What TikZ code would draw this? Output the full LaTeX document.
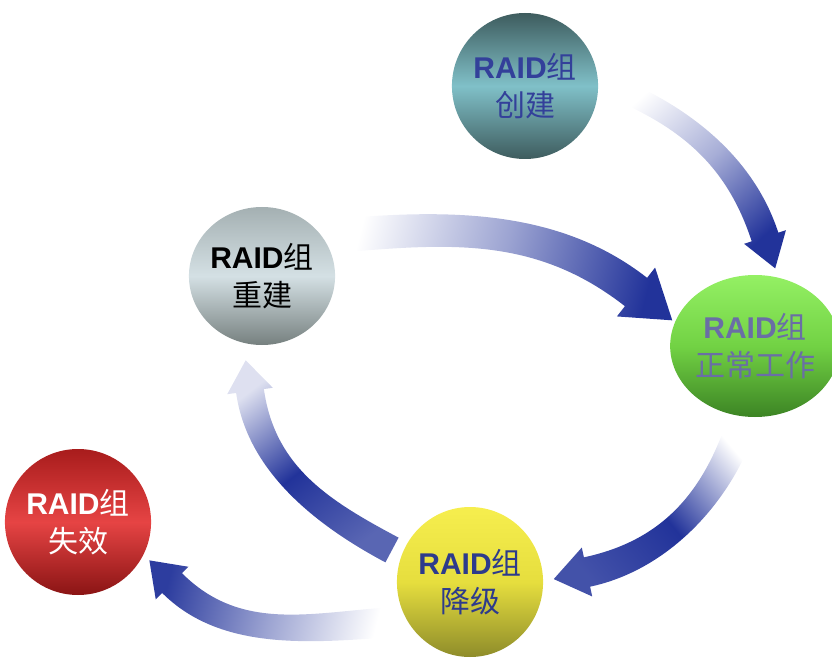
\documentclass[tikz,border=0pt]{standalone}
\usepackage{fontspec}
\setmainfont{Liberation Sans}
\newfontfamily\cjk{Noto Sans CJK SC}
\usetikzlibrary{shapes.geometric}
\definecolor{ab}{HTML}{22339A}
\definecolor{tealA}{HTML}{3E5C5E}
\definecolor{tealB}{HTML}{80C0C8}
\definecolor{grayA}{HTML}{A4B0B2}
\definecolor{grayB}{HTML}{D4E0E4}
\definecolor{grayC}{HTML}{76807F}
\definecolor{greenA}{HTML}{94F064}
\definecolor{greenB}{HTML}{72D244}
\definecolor{greenC}{HTML}{3C8424}
\definecolor{yelA}{HTML}{F6EE4E}
\definecolor{yelB}{HTML}{E6DE3E}
\definecolor{yelC}{HTML}{8E8C2A}
\definecolor{redA}{HTML}{A81C1C}
\definecolor{redB}{HTML}{E64444}
\definecolor{redC}{HTML}{8A1414}
\definecolor{txtA}{HTML}{33409A}
\definecolor{txtC}{HTML}{6A6EA6}
\definecolor{txtD}{HTML}{2D3B8C}
% curved block arrow: #1 fill options, #2,#3 tail centre, #4 tail angle, #5 tail half width,
% #6,#7 head base centre, #8 head angle, #9 head half width; \hw head wing, \hl head length
\newcommand\carrow[9]{%
 \pgfmathsetmacro\cTx{#2}\pgfmathsetmacro\cTy{#3}%
 \pgfmathsetmacro\cHx{#6}\pgfmathsetmacro\cHy{#7}%
 \pgfmathsetmacro\ck{0.37*veclen(\cHx-\cTx,\cHy-\cTy)}%
 \pgfmathsetmacro\dTx{cos(#4)}\pgfmathsetmacro\dTy{sin(#4)}%
 \pgfmathsetmacro\nTx{-sin(#4)}\pgfmathsetmacro\nTy{cos(#4)}%
 \pgfmathsetmacro\dHx{cos(#8)}\pgfmathsetmacro\dHy{sin(#8)}%
 \pgfmathsetmacro\nHx{-sin(#8)}\pgfmathsetmacro\nHy{cos(#8)}%
 \pgfmathsetmacro\tipx{\cHx+\hl*\dHx}\pgfmathsetmacro\tipy{\cHy+\hl*\dHy}%
 \pgfmathsetmacro\ang{atan2(-(\tipx-\cTx),-(\tipy-\cTy))}%
 \path[#1,shading angle=\ang]
   ({\cTx+#5*\nTx},{\cTy+#5*\nTy})
   .. controls ({\cTx+\ck*\dTx+#5*\nTx},{\cTy+\ck*\dTy+#5*\nTy})
   and ({\cHx-\ck*\dHx+#9*\nHx},{\cHy-\ck*\dHy+#9*\nHy})
   .. ({\cHx+#9*\nHx},{\cHy+#9*\nHy})
   -- ({\cHx+\hw*\nHx},{\cHy+\hw*\nHy}) -- (\tipx,\tipy)
   -- ({\cHx-\hw*\nHx},{\cHy-\hw*\nHy})
   -- ({\cHx-#9*\nHx},{\cHy-#9*\nHy})
   .. controls ({\cHx-\ck*\dHx-#9*\nHx},{\cHy-\ck*\dHy-#9*\nHy})
   and ({\cTx+\ck*\dTx-#5*\nTx},{\cTy+\ck*\dTy-#5*\nTy})
   .. ({\cTx-#5*\nTx},{\cTy-#5*\nTy}) -- cycle;}
\begin{document}
\begin{tikzpicture}[x=1pt,y=-1pt,
  state/.style={ellipse, inner sep=0pt, align=center,
    font=\fontsize{30}{38}\selectfont}]
\useasboundingbox (0,0) rectangle (832,668);
% arrows
\def\hw{22}\def\hl{33}
\carrow{bottom color=white, top color=ab, middle color=ab!40}{610}{86}{22}{11}{765}{237}{72}{14}
\def\hw{31}\def\hl{46}
\carrow{bottom color=white, top color=ab, middle color=ab!45}{335}{236}{-5}{17}{636}{292}{38}{18}
\def\hw{25}\def\hl{34}
\carrow{bottom color=white, top color=ab!85, middle color=ab}{743}{420}{108}{15}{587}{572}{168}{15}
\def\hw{23}\def\hl{31}
\carrow{bottom color=ab!75, top color=ab!15, middle color=ab}{392}{550}{208}{14}{250}{391}{262}{14}
\def\hw{23}\def\hl{32}
\carrow{bottom color=white, top color=ab!95, middle color=ab!45}{393}{622}{176}{15}{172}{583}{225}{14}
% states
\node[state, minimum width=138pt, minimum height=146pt,
  top color=tealA, bottom color=tealA, middle color=tealB, text=txtA]
  (create) at (525,86) {\textbf{RAID}{\cjk 组}\\{\cjk 创建}};
\node[state, minimum width=136pt, minimum height=138pt,
  top color=grayA, bottom color=grayC, middle color=grayB, text=black]
  (rebuild) at (262,276) {\textbf{RAID}{\cjk 组}\\{\cjk 重建}};
\node[state, minimum width=144pt, minimum height=142pt,
  top color=greenA, bottom color=greenC, middle color=greenB, text=txtC]
  (normal) at (755,346) {\textbf{RAID}{\cjk 组}\\{\cjk 正常工作}};
\node[state, minimum width=136pt, minimum height=150pt,
  top color=yelA, bottom color=yelC, middle color=yelB, text=txtD]
  (degraded) at (470,582) {\textbf{RAID}{\cjk 组}\\{\cjk 降级}};
\node[state, minimum width=140pt, minimum height=146pt,
  top color=redA, bottom color=redC, middle color=redB, text=white]
  (failed) at (78,522) {\textbf{RAID}{\cjk 组}\\{\cjk 失效}};
\end{tikzpicture}
\end{document}
